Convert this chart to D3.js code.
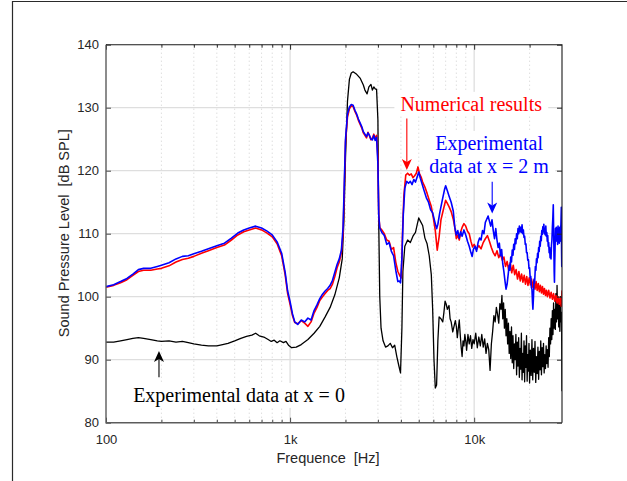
<!DOCTYPE html>
<html>
<head>
<meta charset="utf-8">
<script src="https://cdn.jsdelivr.net/npm/d3@7"></script>
<style>
  body { margin: 0; background: #fff; }
  svg { display: block; }
</style>
</head>
<body>
<div id="chart"></div>
<script>
// axis ticks
var xMajorTicks = [100, 1000, 10000];
var xMajorLabels = ["100", "1k", "10k"];
var xMinorTicks = [200, 300, 400, 500, 600, 700, 800, 900,
                   2000, 3000, 4000, 5000, 6000, 7000, 8000, 9000, 20000];
var yTicks = [80, 90, 100, 110, 120, 130, 140];

// experimental data at x = 0 (black)
var blackFreq = [100,110,120,130,140,150,160,175,190,200,220,240,260,280,300,330,360,400,430,460,500,540,580,620,650,680,720,760,790,820,850,880,920,950,980,1020,1080,1150,1250,1350,1450,1550,1650,1750,1850,1920,1960,2000,2050,2100,2150,2200,2300,2400,2500,2550,2620,2680,2750,2800,2850,2900,2950,3000,3030,3070,3120,3200,3300,3400,3500,3600,3700,3800,3900,3980,4050,4100,4200,4350,4500,4650,4800,4900,5000,5100,5250,5400,5550,5700,5850,5950,6050,6150,6250,6350,6450,6600,6750,6850,6950,7050,7150,7300,7400,7500,7650,7800,7900,8000,8100,8200,8300,8400,8500,8600,8700,8800,8900,9000,9100,9250,9400,9550,9700,9850,10000,10200,10400,10600,10800,11000,11200,11400,11600,11800,12000,12200,12400,12600,12800,13000,13200,13400,13600,13800,
  14000,14150,14300,14450,14600,14750,14900,15050,15200,15350,15500,15650,15800,15950,16100,16250,16400,16550,16700,16850,17000,17150,17300,17450,17600,17750,17900,18050,18200,18350,18500,18650,18800,18950,19100,19250,19400,19550,19700,19850,20000,20200,20400,20600,20800,21000,21200,21400,21600,21800,22000,22200,22400,22600,22800,23000,23200,23400,23600,23800,24000,24200,24400,24600,24800,25000,25200,25400,25600,25800,26000,26200,26400,26600,26800,27000,27200,27400,27600,27800,28000,28200,28400,28600,28800,29000,29200,29400,29600,29800,29900,30000];
var blackSpl = [92.8,92.8,93.0,93.2,93.4,93.5,93.4,93.2,93.0,92.9,93.0,92.8,92.9,92.7,92.5,92.3,92.2,92.2,92.4,92.6,93.0,93.4,93.7,93.9,94.2,93.8,93.6,93.2,92.9,93.1,92.7,93.0,92.7,92.9,92.3,91.9,92.0,92.4,93.2,94.2,95.3,96.8,98.3,100.3,103.0,106,112,122,131,134.5,135.5,135.7,135.3,134.7,133.6,132.8,132.2,133.3,133.7,132.8,133.3,133.0,132.9,128,112,100,95,93.0,92.0,92.2,92.6,91.9,92.3,90.5,89.0,87.9,95,104,108.0,109.0,108.6,109.6,110.2,111.4,112.5,112.0,111.3,109.3,108.4,106.5,103.5,98,90,85.5,86,93,96.8,96.5,96.0,97.5,99.3,98.8,98.0,98.6,96.5,96.0,94.4,95.5,96.2,95.3,93.5,95.0,96.3,94.0,92.0,90.5,93.0,92.2,94.0,93.0,91.5,94.0,92.5,93.8,91.8,93.2,92.5,94.2,91.9,93.6,92.2,94.0,92.0,93.3,91.0,92.6,91.6,88.3,92.5,94.5,97.0,96.0,98.3,97.2,95.8,98.9,
  98.0,100.2,96.5,99.0,95.0,98.0,93.8,96.5,92.5,95.8,91.0,94.5,90.2,95.2,89.5,93.8,88.6,92.5,90.0,94.0,87.6,92.8,89.0,93.5,87.2,91.8,88.5,94.2,86.8,91.0,88.0,93.0,86.5,92.2,88.8,93.8,86.6,90.8,88.2,92.6,86.3,91.5,87.5,93.2,86.8,91.8,88.0,92.9,86.4,90.5,87.8,92.0,86.9,91.3,88.4,93.0,87.6,91.9,88.9,92.6,87.9,90.8,88.6,92.2,89.4,91.6,88.8,93.5,90.5,95.0,92.5,96.5,93.2,97.8,94.0,99.0,95.0,98.0,94.8,100.5,96.0,101.8,96.5,99.5,95.2,98.8,94.5,100.0,96.0,97.5,92.0,85.0];

// numerical results (red)
var redFreq = [100,110,120,130,140,150,160,175,190,200,220,240,260,280,300,330,360,400,440,480,520,560,600,650,700,750,800,850,900,940,970,1000,1030,1060,1100,1150,1200,1250,1300,1350,1400,1450,1500,1550,1600,1650,1700,1750,1800,1850,1900,1940,1970,2000,2050,2100,2150,2200,2250,2300,2350,2400,2450,2500,2550,2600,2650,2700,2750,2800,2850,2900,2950,3000,3030,3070,3150,3250,3350,3450,3550,3650,3750,3850,3950,4020,4080,4150,4250,4350,4450,4550,4650,4750,4850,4950,5050,5150,5250,5400,5550,5700,5850,6000,6150,6300,6450,6600,6800,7000,7150,7300,7500,7700,7850,8000,8150,8300,8450,8600,8800,9000,9200,9400,9600,9800,10000,10300,10600,10900,11200,11500,11800,12100,12400,12700,13000,13300,13600,13900,14200,14500,14800,15100,15400,15700,16000,16300,16600,16900,17200,17500,17800,18100,18400,18700,19000,19300,19600,19900,20200,20500,20800,21100,21400,21700,22000,22300,22600,22900,23200,23500,23800,24100,24400,24700,25000,25400,25800,26200,26600,27000,27400,27800,28200,28600,29000,29400,29700,30000];
var redSpl = [101.5,101.8,102.2,102.7,103.4,104.0,104.2,104.2,104.4,104.5,104.9,105.5,105.9,106.1,106.4,106.9,107.3,107.8,108.2,109.0,109.8,110.3,110.6,110.9,110.6,110.1,109.5,108.4,106.5,103.5,100.5,98.8,97.0,95.9,95.7,96.2,95.8,95.3,96.0,97.4,98.3,99.4,100.0,100.5,101.0,101.3,102.0,103.2,104.6,105.5,107.0,110,117,124.5,128.5,129.8,130.3,130.2,129.4,128.8,128.0,127.4,126.8,126.0,125.6,125.2,126.1,125.5,124.9,125.2,125.8,125.1,125.6,122,113,111.0,110.6,110.0,109.0,108.8,107.5,107.8,105.5,104.0,103.3,103.0,110,116,119.3,119.6,119.3,119.5,118.9,119.2,119.6,120.6,119.5,119.0,118.2,117.4,116.4,115.3,114.3,112.5,110.5,107.4,109.5,112.2,113.8,115.3,114.8,114.3,113.5,112.3,111.0,109.2,109.8,109.0,110.3,111.0,111.6,111.2,110.4,110.0,108.8,107.9,108.3,107.5,108.1,107.6,108.6,109.2,109.7,108.8,107.8,107.0,106.5,107.3,106.2,106.8,105.8,106.3,104.8,105.6,104.2,105.4,103.8,105.0,103.5,104.3,102.8,104.0,102.5,103.6,102.3,103.4,102.0,103.2,101.8,103.0,101.9,102.8,101.5,102.6,101.2,102.4,101.0,102.1,100.8,101.8,100.6,101.6,100.4,101.3,100.2,101.0,100.0,101.0,99.8,100.7,99.6,100.5,99.3,100.2,99.0,100.0,98.8,99.8,98.5,101.0];

// experimental data at x = 2 m (blue)
var blueFreq = [100,110,120,130,140,150,160,175,190,200,220,240,260,280,300,330,360,400,440,480,520,560,600,650,700,750,800,850,900,940,970,1000,1030,1060,1100,1150,1200,1250,1300,1350,1400,1450,1500,1550,1600,1650,1700,1750,1800,1850,1900,1940,1970,2000,2050,2100,2150,2200,2250,2300,2350,2400,2450,2500,2550,2600,2650,2700,2750,2800,2850,2900,2950,3000,3030,3070,3150,3250,3350,3450,3550,3650,3750,3850,3920,3980,4050,4120,4200,4300,4400,4500,4600,4700,4800,4900,5000,5100,5200,5350,5500,5650,5800,5950,6100,6250,6350,6500,6700,6900,7000,7150,7300,7500,7700,7850,8000,8150,8300,8450,8600,8800,9000,9200,9400,9600,9750,9900,10100,10300,10500,10700,10900,11100,11300,11500,11700,11900,12100,12300,12500,12700,12900,13100,13300,13500,13700,13900,14100,14300,14500,14700,14900,15100,15300,
  15500,15650,15800,15950,16100,16250,16400,16550,16700,16850,17000,17150,17300,17450,17600,17750,17900,18050,18200,18350,18500,18650,18800,18950,19100,19250,19400,19550,19700,19850,20000,20150,20300,20450,20600,20750,20850,21000,21150,21300,21500,21650,21800,21950,22100,22250,22400,22550,22700,22850,23000,23150,23300,23450,23600,23750,23900,24050,24200,24350,24500,24650,24800,24950,25100,25250,25400,25550,25700,25850,26000,26150,26300,26450,26600,26750,26900,27000,27100,27200,27300,27400,27500,27650,27800,27950,28100,28250,28400,28550,28700,28850,29000,29150,29300,29450,29600,29750,29850,29920,30000];
var blueSpl = [101.6,101.9,102.4,102.9,103.6,104.3,104.5,104.5,104.8,105.0,105.4,106.0,106.4,106.5,106.8,107.2,107.6,108.1,108.5,109.3,110.1,110.6,110.9,111.2,110.9,110.4,109.8,108.7,106.9,103.9,100.9,99.2,97.3,96.0,95.6,96.3,96.0,96.6,96.3,97.8,98.7,99.7,100.4,100.9,101.3,101.8,102.6,103.9,105.1,106.0,107.4,111,118,125,129,130.1,130.5,130.4,129.6,129.0,128.2,127.6,127.0,126.2,125.8,125.4,126.0,125.6,125.0,124.9,125.6,124.8,125.3,121,113,110.9,110.2,109.7,108.3,108.6,107.2,106.5,104.2,102.4,102.5,102.2,106,113,117.2,118.3,118.0,118.3,117.8,118.6,118.2,119.0,119.8,118.8,118.0,116.8,115.7,115.0,113.8,113.3,112.0,110.8,111.5,113.3,115.2,117.0,117.6,116.8,116.0,115.0,113.6,111.0,109.8,110.5,109.3,110.3,109.6,110.6,109.8,108.8,108.0,107.0,106.4,107.5,108.0,107.2,108.6,109.3,109.0,110.5,110.0,111.8,112.3,112.8,112.0,111.2,112.2,110.5,109.2,110.8,109.0,107.8,108.5,106.5,107.5,105.2,104.0,102.5,101.2,102.0,103.5,
  105.0,104.2,106.3,105.5,107.4,106.6,108.3,107.5,109.2,108.4,110.0,109.2,110.8,110.0,111.2,110.3,111.0,110.2,111.4,110.0,110.6,109.4,109.6,108.3,108.4,107.0,107.0,105.8,105.9,104.5,104.6,103.0,103.2,101.5,101.2,99.0,98.0,100.0,102.8,102.2,104.8,104.2,106.0,105.4,106.9,106.2,107.8,107.2,108.8,108.0,109.6,108.9,110.5,109.9,111.1,110.3,111.5,110.0,110.8,109.8,111.2,109.6,110.2,108.8,109.7,108.0,108.6,107.0,107.8,106.2,107.0,106.0,108.2,109.0,111.0,112.5,114.6,111.0,108.0,104.0,102.3,105.5,107.5,110.8,109.5,111.0,108.8,110.6,108.3,111.2,108.6,110.8,108.5,111.0,108.8,110.5,111.5,114.2,107.0,104.8,110.0];

var w = 627, h = 481;
var margin = { top: 44.7, right: 65, bottom: 58.3, left: 106 };
var contentsWidth = w - margin.left - margin.right;
var contentsHeight = h - margin.top - margin.bottom;

var svg = d3.select("#chart").append("svg")
  .attr("width", w)
  .attr("height", h)
  .style("font-family", "'Liberation Sans', Arial, sans-serif");

// figure frame
svg.append("path")
  .attr("d", "M12.5," + h + "V1.5H" + w)
  .attr("fill", "none")
  .attr("stroke", "#2a2a2a")
  .attr("stroke-width", 1.2);

var chartG = svg.append("g")
  .attr("transform", "translate(" + margin.left + "," + margin.top + ")");

var xScale = d3.scaleLog().domain([100, 30000]).range([0, contentsWidth]);
var yScale = d3.scaleLinear().domain([80, 140]).range([contentsHeight, 0]);

// grid
var grid = chartG.append("g").attr("class", "grid");
grid.selectAll("line.minor").data(xMinorTicks).enter().append("line")
  .attr("class", "minor")
  .attr("x1", function(d) { return xScale(d); })
  .attr("x2", function(d) { return xScale(d); })
  .attr("y1", 0).attr("y2", contentsHeight)
  .attr("stroke", "#c4c4c4")
  .attr("stroke-width", 0.8)
  .attr("stroke-dasharray", "1,3");
grid.selectAll("line.vmajor").data(xMajorTicks.slice(1)).enter().append("line")
  .attr("class", "vmajor")
  .attr("x1", function(d) { return xScale(d); })
  .attr("x2", function(d) { return xScale(d); })
  .attr("y1", 0).attr("y2", contentsHeight)
  .attr("stroke", "#dedede")
  .attr("stroke-width", 1.3);
grid.selectAll("line.hmajor").data(yTicks.slice(1, -1)).enter().append("line")
  .attr("class", "hmajor")
  .attr("x1", 0).attr("x2", contentsWidth)
  .attr("y1", function(d) { return yScale(d); })
  .attr("y2", function(d) { return yScale(d); })
  .attr("stroke", "#dedede")
  .attr("stroke-width", 1.3);

// curves
var series = [
  { name: "black", freq: blackFreq, spl: blackSpl, color: "#000000", width: 1.3 },
  { name: "red", freq: redFreq, spl: redSpl, color: "#ff0000", width: 1.6 },
  { name: "blue", freq: blueFreq, spl: blueSpl, color: "#0000ff", width: 1.6 }
];
var line = d3.line()
  .x(function(d) { return xScale(d[0]); })
  .y(function(d) { return yScale(d[1]); });

var clip = chartG.append("clipPath").attr("id", "plotClip");
clip.append("rect").attr("width", contentsWidth).attr("height", contentsHeight);

chartG.append("g").attr("clip-path", "url(#plotClip)")
  .selectAll("path").data(series).enter().append("path")
  .attr("d", function(s) { return line(d3.zip(s.freq, s.spl)); })
  .attr("fill", "none")
  .attr("stroke", function(s) { return s.color; })
  .attr("stroke-width", function(s) { return s.width; })
  .attr("stroke-linejoin", "round");

// axes (ticks point inward)
function styleAxis(g, color) {
  g.select(".domain").remove();
  g.selectAll("line").attr("stroke", color);
  g.selectAll("text").attr("fill", "#262626").style("font-size", "13px");
}

var xAxis = chartG.append("g")
  .attr("transform", "translate(0," + contentsHeight + ")")
  .call(d3.axisBottom(xScale).tickValues(xMajorTicks)
    .tickFormat(function(d, i) { return xMajorLabels[i]; })
    .tickSize(-5));
styleAxis(xAxis, "#4a4a4a");
xAxis.selectAll("text").attr("y", 21).attr("dy", 0);

chartG.append("g")
  .attr("transform", "translate(0," + contentsHeight + ")")
  .call(d3.axisBottom(xScale).tickValues(xMinorTicks).tickFormat("").tickSize(-3))
  .call(styleAxis, "#4a4a4a");

chartG.append("g")
  .call(d3.axisTop(xScale).tickValues(xMajorTicks).tickFormat("").tickSize(-5))
  .call(styleAxis, "#262626");
chartG.append("g")
  .call(d3.axisTop(xScale).tickValues(xMinorTicks).tickFormat("").tickSize(-3))
  .call(styleAxis, "#262626");

var yAxis = chartG.append("g")
  .call(d3.axisLeft(yScale).tickValues(yTicks).tickSize(-5).tickPadding(7));
styleAxis(yAxis, "#4a4a4a");

chartG.append("g")
  .attr("transform", "translate(" + contentsWidth + ",0)")
  .call(d3.axisRight(yScale).tickValues(yTicks).tickFormat("").tickSize(-5))
  .call(styleAxis, "#262626");

// axis box
chartG.append("path")
  .attr("d", "M0,0V" + contentsHeight + "H" + contentsWidth)
  .attr("fill", "none").attr("stroke", "#5c5c5c").attr("stroke-width", 1.4);
chartG.append("path")
  .attr("d", "M0,0H" + contentsWidth + "V" + contentsHeight)
  .attr("fill", "none").attr("stroke", "#1a1a1a").attr("stroke-width", 1.1);

// axis labels
svg.append("text")
  .attr("x", margin.left + contentsWidth / 2 - 6)
  .attr("y", 463)
  .attr("text-anchor", "middle")
  .attr("fill", "#262626")
  .style("font-size", "14.5px")
  .text("Frequence\u00a0\u00a0[Hz]");

svg.append("text")
  .attr("transform", "translate(69," + (margin.top + contentsHeight / 2 - 0.5) + ") rotate(-90)")
  .attr("text-anchor", "middle")
  .attr("fill", "#262626")
  .style("font-size", "14.5px")
  .text("Sound Pressure Level\u00a0\u00a0[dB SPL]");

// annotations
var notes = [
  { lines: ["Numerical results"], f: 9635, v: 129.5, color: "#ff0000" },
  { lines: ["Experimental", "data at x = 2 m"], f: 12050, v: 123.3, color: "#0000ff" },
  { lines: ["Experimental data at x = 0"], f: 528, v: 83.3, color: "#000000" }
];
var arrows = [
  { f: 4307, from: 128.3, to: 120.1, color: "#ff0000" },
  { f: 12530, from: 118.25, to: 113.2, color: "#0000ff" },
  { f: 194, from: 87.2, to: 91.4, color: "#000000" }
];

var noteG = chartG.append("g");
notes.forEach(function(n) {
  var g = noteG.append("g");
  var t = g.append("text")
    .attr("x", xScale(n.f))
    .attr("y", yScale(n.v))
    .attr("text-anchor", "middle")
    .attr("fill", n.color)
    .style("font-family", "'Liberation Serif', 'Times New Roman', serif")
    .style("font-size", "20px");
  n.lines.forEach(function(s, i) {
    t.append("tspan")
      .attr("x", xScale(n.f))
      .attr("dy", i === 0 ? 0 : "1.17em")
      .text(s);
  });
  var bb = t.node().getBBox();
  g.insert("rect", "text")
    .attr("x", bb.x - 6).attr("y", bb.y - 1)
    .attr("width", bb.width + 12).attr("height", bb.height + 2)
    .attr("fill", "#ffffff");
});

arrows.forEach(function(a) {
  var x = xScale(a.f), y0 = yScale(a.from), y1 = yScale(a.to);
  var dir = y1 > y0 ? 1 : -1;
  var hl = 11, hw = 5, notch = 8;
  noteG.append("line")
    .attr("x1", x).attr("x2", x)
    .attr("y1", y0).attr("y2", y1 - dir * notch)
    .attr("stroke", a.color).attr("stroke-width", 1.1);
  var p = d3.path();
  p.moveTo(x, y1);
  p.lineTo(x - hw, y1 - dir * hl);
  p.lineTo(x, y1 - dir * notch);
  p.lineTo(x + hw, y1 - dir * hl);
  p.closePath();
  noteG.append("path").attr("d", p.toString()).attr("fill", a.color);
});
</script>
</body>
</html>
